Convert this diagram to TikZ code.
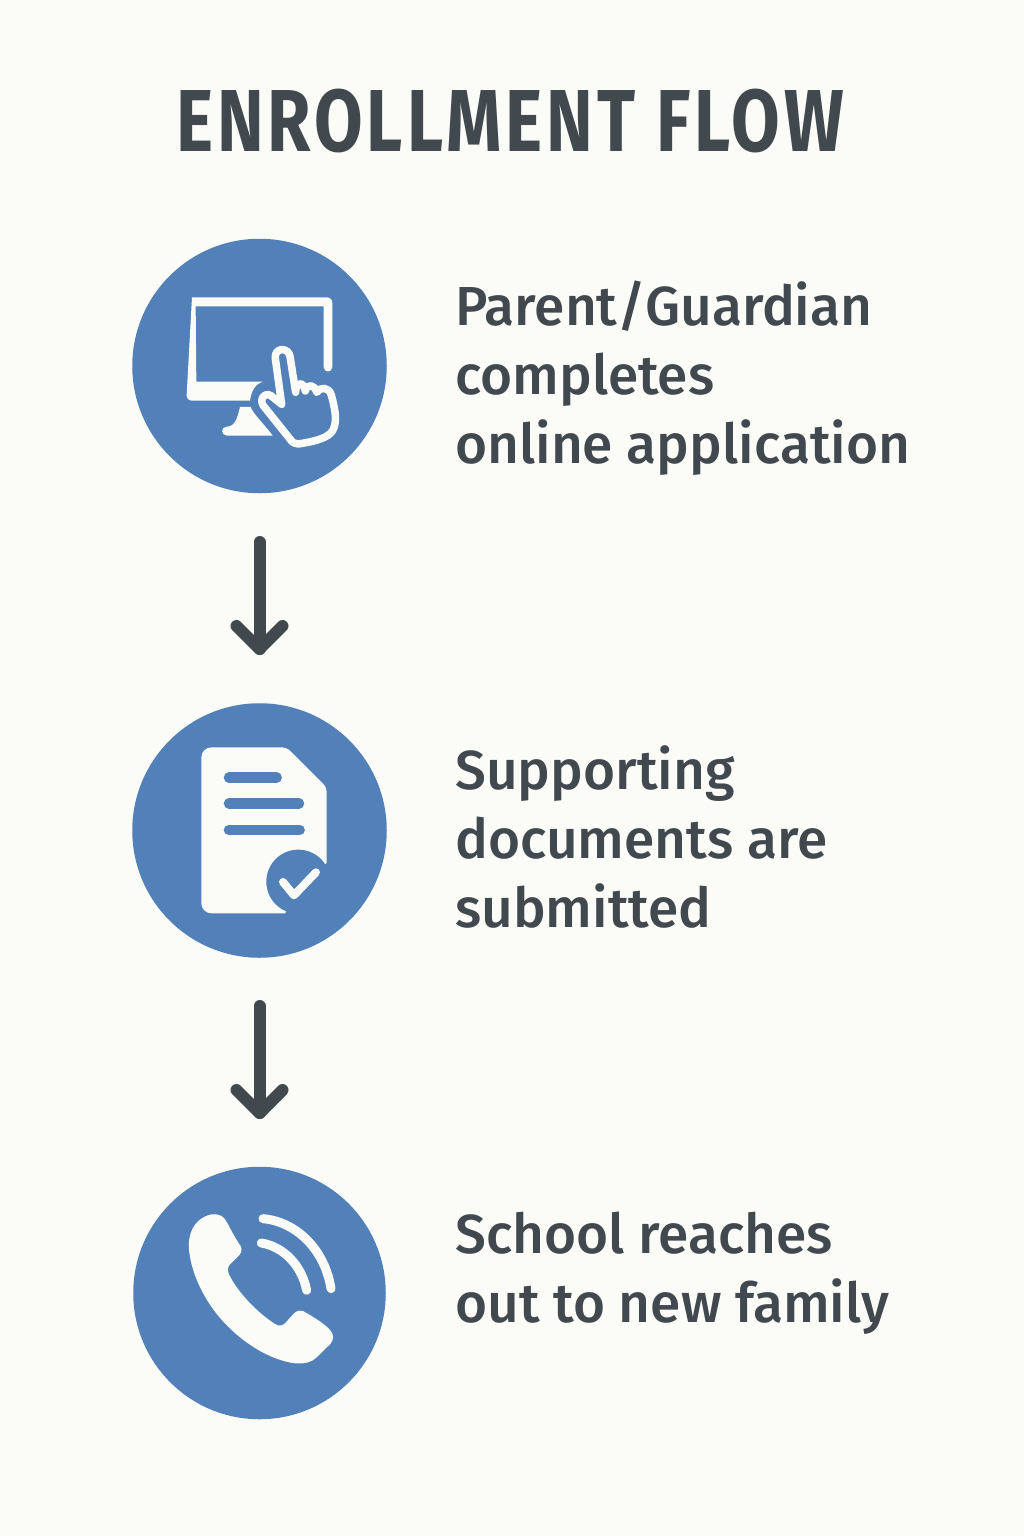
\documentclass[tikz,border=0pt]{standalone}
\usepackage{fontspec}
\setmainfont{Fira Sans Medium}
\newfontfamily\titlefont[FakeStretch=0.8,LetterSpace=4.5]{Fira Sans Bold}
\usetikzlibrary{calc}
\definecolor{bgc}{HTML}{FBFBF8}
\definecolor{blu}{HTML}{5281B9}
\definecolor{ink}{HTML}{41494E}
\tikzset{
  stepcircle/.style={circle,fill=blu,inner sep=0pt,minimum size=254.5pt},
  steptext/.style={anchor=west,align=left,text=ink,inner sep=0pt,font=\fontsize{55}{69}\selectfont},
  flowarrow/.style={draw=ink,line width=12pt,line cap=round,line join=round},
  icon/.style={fill=bgc,draw=none},
  zoomA/.style={shift={(130,235)},x=0.3333pt,y=-0.3333pt},
  zoomB/.style={shift={(130,700)},x=0.3333pt,y=-0.3333pt},
  zoomC/.style={shift={(130,1165)},x=0.3333pt,y=-0.3333pt}
}
\begin{document}
\begin{tikzpicture}[x=1pt,y=-1pt]
\fill[bgc] (0,0) rectangle (1024,1536);
\useasboundingbox (0,0) rectangle (1024,1536);
\node[text=ink,inner sep=0pt,font=\fontsize{88}{88}\titlefont] (title) at (510,121) {ENROLLMENT FLOW};
\node[stepcircle] (c1) at (259.5,366) {};
\node[stepcircle] (c2) at (259.5,830.5) {};
\node[stepcircle,minimum size=252.5pt] (c3) at (259.5,1293) {};
\node[steptext] (t1) at (455,378) {Parent/Guardian\\completes\\online application};
\node[steptext] (t2) at (455,836.5) {Supporting\\documents are\\submitted};
\node[steptext] (t3) at (455,1273) {School reaches\\out to new family};
% arrows
\coordinate (a1s) at (259.5,542); \coordinate (a1e) at (259.5,649);
\coordinate (a2s) at (259.5,1006); \coordinate (a2e) at (259.5,1113);
\draw[flowarrow] (a1s) -- (a1e);
\draw[flowarrow] ($(a1e)+(-23,-23)$) -- (a1e) -- ($(a1e)+(23,-23)$);
\draw[flowarrow] (a2s) -- (a2e);
\draw[flowarrow] ($(a2e)+(-23,-23)$) -- (a2e) -- ($(a2e)+(23,-23)$);
% monitor
\begin{scope}[zoomA]
\fill[icon]
  (186,187) -- (590,187) .. controls (600,187) and (607,194) .. (607,204)
  -- (607,396) .. controls (607,414) and (581,414) .. (581,396)
  -- (581,214) -- (197,214) -- (199,440) -- (398,440)
  .. controls (378,446) and (364,466) .. (360,497)
  -- (186,497) .. controls (176,497) and (170,490) .. (170,480) -- cycle;
\fill[icon] (330,516) -- (362,516) .. controls (368,535) and (405,570) .. (428,602)
  -- (290,602) .. controls (272,600) and (272,576) .. (290,575)
  .. controls (315,575) and (322,550) .. (330,516) -- cycle;
\draw[draw=bgc,line width=7.5pt,line join=round,line cap=round,fill=blu]
  (455,508) -- (436,370) .. controls (432,335) and (480,335) .. (481,370)
  -- (497,472) .. controls (497,440) and (522,438) .. (526,468)
  .. controls (530,445) and (555,448) .. (560,472)
  .. controls (570,455) and (597,455) .. (604,480)
  .. controls (613,515) and (622,550) .. (612,578)
  .. controls (603,608) and (560,618) .. (505,627)
  .. controls (495,628) and (486,622) .. (480,612)
  -- (400,512) .. controls (385,490) and (410,465) .. (430,488) -- cycle;
\end{scope}
% document
\begin{scope}[zoomB]
\fill[icon] (245,142) -- (458,142) .. controls (468,142) and (476,148) .. (484,156)
  -- (578,250) .. controls (586,258) and (590,265) .. (590,278)
  -- (590,640) -- (245,640) .. controls (228,640) and (214,627) .. (214,610)
  -- (214,172) .. controls (214,155) and (228,142) .. (245,142) -- cycle;
\fill[blu] (505,545) circle[radius=96];
\fill[blu] (463,648) -- (600,648) -- (600,484) -- (505,545) -- cycle;
\draw[blu,line width=10.5pt,line cap=round] (297,233) -- (440,233);
\draw[blu,line width=10.5pt,line cap=round] (297,310) -- (507,310);
\draw[blu,line width=10.5pt,line cap=round] (297,390) -- (509,390);
\draw[bgc,line width=8pt,line cap=round,line join=round] (459,546) -- (492,586) -- (558,517);
\end{scope}
% phone
\begin{scope}[zoomC]
\fill[icon] (203,170) .. controls (225,148) and (262,138) .. (283,160)
  .. controls (295,175) and (300,195) .. (333,245)
  .. controls (338,258) and (332,268) .. (322,276)
  -- (300,298) .. controls (292,306) and (292,318) .. (298,330)
  .. controls (325,385) and (385,445) .. (435,477)
  .. controls (448,485) and (458,482) .. (466,474)
  -- (490,447) .. controls (500,435) and (515,433) .. (530,444)
  .. controls (560,462) and (585,478) .. (600,495)
  .. controls (612,508) and (612,522) .. (602,536)
  -- (560,577) .. controls (545,592) and (525,597) .. (495,595)
  .. controls (420,585) and (340,535) .. (280,470)
  .. controls (225,410) and (185,330) .. (177,255)
  .. controls (174,220) and (183,190) .. (203,170) -- cycle;
\draw[bgc,line width=9pt,line cap=round] (399,161) .. controls (500,170) and (585,255) .. (603,371);
\draw[bgc,line width=9pt,line cap=round] (394,234) .. controls (460,245) and (515,300) .. (530,376);
\end{scope}
\end{tikzpicture}
\end{document}
